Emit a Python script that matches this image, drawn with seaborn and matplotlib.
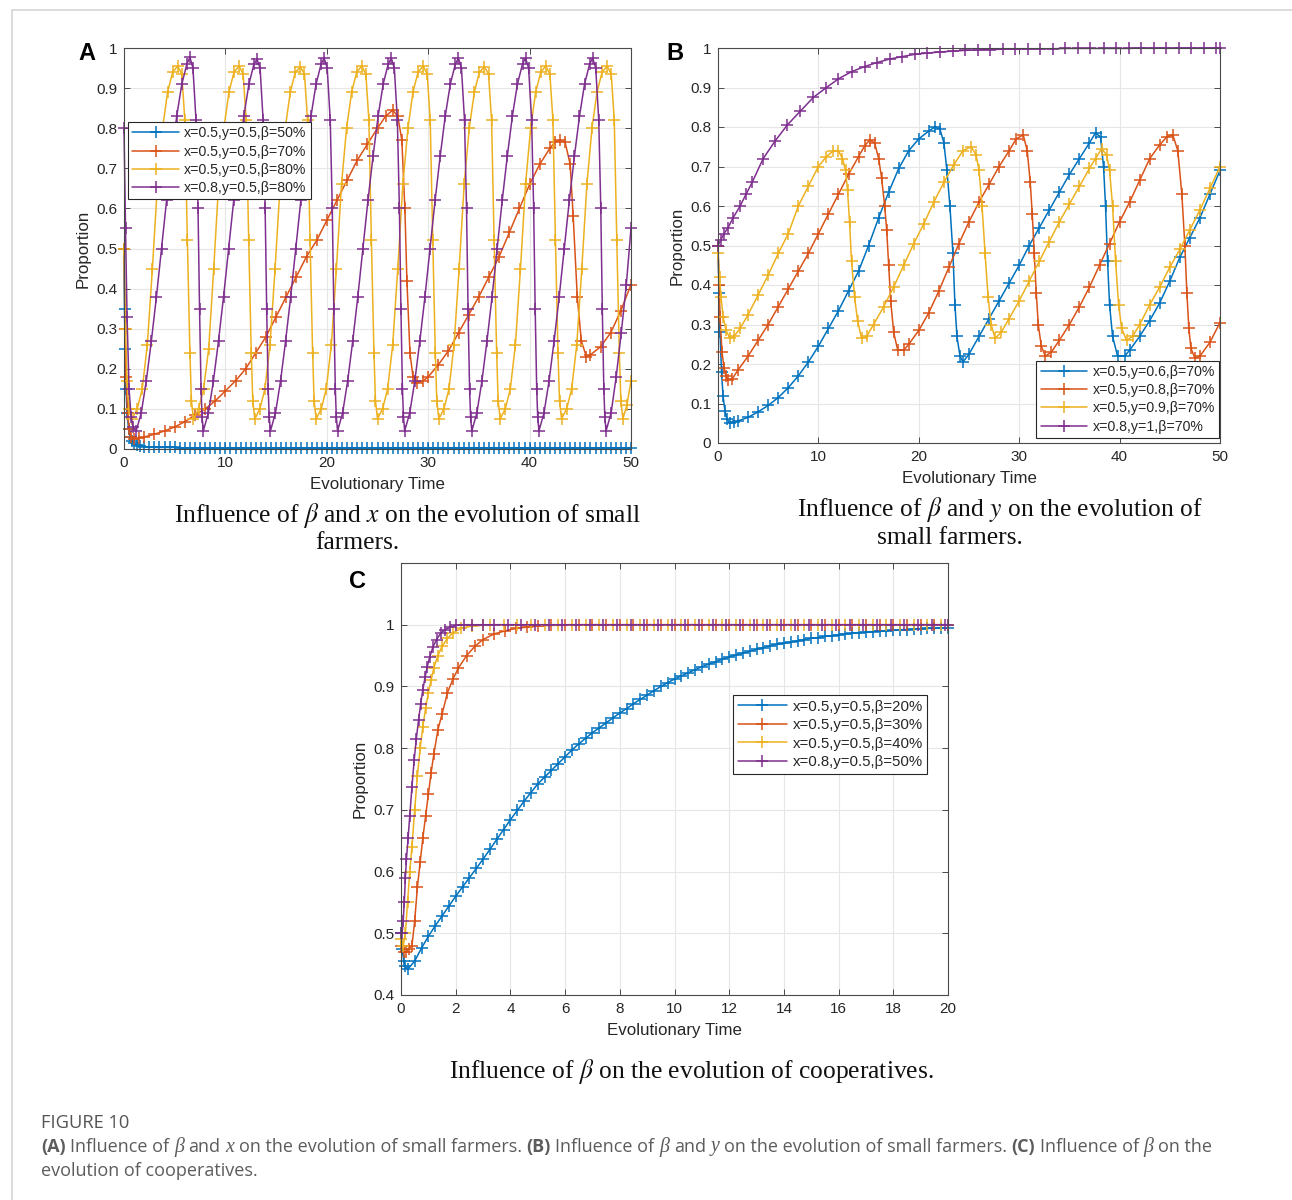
import numpy as np
import pandas as pd
import matplotlib
matplotlib.use("Agg")
import matplotlib.pyplot as plt
from matplotlib.lines import Line2D
import seaborn as sns

# ------------------------------------------------------------------
# Series colours (MATLAB default order)
COLORS = ["#0072BD", "#D95319", "#EDB120", "#7E2F8E"]

# ------------------------------------------------------------------
# Panel A : influence of beta and x on small farmers
A_LABELS = ["x=0.5,y=0.5,β=50%", "x=0.5,y=0.5,β=70%",
            "x=0.5,y=0.5,β=80%", "x=0.8,y=0.5,β=80%"]

a_t_blue = [0, 0.05, 0.1, 0.2, 0.3, 0.45, 0.6, 0.8, 1.0, 1.3, 1.6, 2.0, 2.5, 3.0,
            3.5, 4, 4.5, 5, 5.5, 6, 6.5, 7, 7.5, 8,
            8.5, 9, 9.5, 10, 10.5, 11, 11.5, 12, 12.5, 13,
            13.5, 14, 14.5, 15, 15.5, 16, 16.5, 17, 17.5, 18,
            18.5, 19, 19.5, 20, 20.5, 21, 21.5, 22, 22.5, 23,
            23.5, 24, 24.5, 25, 25.5, 26, 26.5, 27, 27.5, 28,
            28.5, 29, 29.5, 30, 30.5, 31, 31.5, 32, 32.5, 33,
            33.5, 34, 34.5, 35, 35.5, 36, 36.5, 37, 37.5, 38,
            38.5, 39, 39.5, 40, 40.5, 41, 41.5, 42, 42.5, 43,
            43.5, 44, 44.5, 45, 45.5, 46, 46.5, 47, 47.5, 48,
            48.5, 49, 49.5, 50]
a_y_blue = [0.5, 0.35, 0.25, 0.15, 0.09, 0.05, 0.03, 0.02, 0.014, 0.01, 0.008, 0.006, 0.005, 0.004,
            0.004, 0.004, 0.004, 0.004, 0.003, 0.003, 0.003, 0.003, 0.003, 0.003,
            0.003, 0.003, 0.003, 0.003, 0.003, 0.003, 0.003, 0.003, 0.003, 0.003,
            0.003, 0.003, 0.003, 0.003, 0.003, 0.003, 0.003, 0.003, 0.003, 0.003,
            0.003, 0.003, 0.003, 0.003, 0.003, 0.003, 0.003, 0.003, 0.003, 0.003,
            0.003, 0.003, 0.003, 0.003, 0.003, 0.003, 0.003, 0.003, 0.003, 0.003,
            0.003, 0.003, 0.003, 0.003, 0.003, 0.003, 0.003, 0.003, 0.003, 0.003,
            0.003, 0.003, 0.003, 0.003, 0.003, 0.003, 0.003, 0.003, 0.003, 0.003,
            0.003, 0.003, 0.003, 0.003, 0.003, 0.003, 0.003, 0.003, 0.003, 0.003,
            0.003, 0.003, 0.003, 0.003, 0.003, 0.003, 0.003, 0.003, 0.003, 0.003,
            0.003, 0.003, 0.003, 0.003]

a_t_red = [0, 0.1, 0.2, 0.35, 0.5, 0.7, 1.0, 1.5,
           2, 3, 4, 5, 6, 7, 8, 9, 10, 11, 12, 13, 14, 15, 16, 17, 18, 19, 20, 21,
           22, 23, 24, 25,
           25.8, 26.5, 27.0, 27.4, 27.7, 27.9, 28.2, 28.5, 28.9, 29.5,
           30, 31, 32, 33, 34, 35, 36, 37, 38, 39, 40, 41, 42,
           42.5, 43.0, 43.5, 44.0, 44.3, 44.7, 45.1, 45.6,
           46, 47, 48, 49, 50]
a_y_red = [0.5, 0.3, 0.18, 0.09, 0.05, 0.03, 0.025, 0.027,
           0.03, 0.037, 0.045, 0.055, 0.068, 0.085, 0.1, 0.12, 0.145, 0.17, 0.2, 0.24,
           0.28, 0.33, 0.38, 0.43, 0.48, 0.52, 0.57, 0.62, 0.67, 0.72, 0.76, 0.8,
           0.83, 0.845, 0.83, 0.77, 0.6, 0.42, 0.24, 0.18, 0.165, 0.17,
           0.18, 0.21, 0.245, 0.29, 0.335, 0.38, 0.43, 0.48, 0.54, 0.6, 0.66, 0.71, 0.75,
           0.765, 0.77, 0.765, 0.71, 0.58, 0.38, 0.27, 0.23,
           0.235, 0.255, 0.29, 0.345, 0.41]

a_t_yellow = [0, 0.15, 0.3, 0.5,
              0.8, 1.3, 1.8, 2.3, 2.8, 3.3, 3.8, 4.3, 4.8, 5.3, 5.7, 6.0, 6.25, 6.5, 6.65,
              6.85, 7.35, 7.85, 8.35, 8.85, 9.35, 9.85, 10.35, 10.85, 11.35, 11.75, 12.05, 12.3, 12.55, 12.7,
              12.9, 13.4, 13.9, 14.4, 14.9, 15.4, 15.9, 16.4, 16.9, 17.4, 17.8, 18.1, 18.35, 18.6, 18.75,
              18.95, 19.45, 19.95, 20.45, 20.95, 21.45, 21.95, 22.45, 22.95, 23.45, 23.85, 24.15, 24.4, 24.65, 24.8,
              25.0, 25.5, 26.0, 26.5, 27.0, 27.5, 28.0, 28.5, 29.0, 29.5, 29.9, 30.2, 30.45, 30.7, 30.85,
              31.05, 31.55, 32.05, 32.55, 33.05, 33.55, 34.05, 34.55, 35.05, 35.55, 35.95, 36.25, 36.5, 36.75, 36.9,
              37.1, 37.6, 38.1, 38.6, 39.1, 39.6, 40.1, 40.6, 41.1, 41.6, 42.0, 42.3, 42.55, 42.8, 42.95,
              43.15, 43.65, 44.15, 44.65, 45.15, 45.65, 46.15, 46.65, 47.15, 47.65, 48.05, 48.35, 48.6, 48.85, 49.0,
              49.2, 49.6, 50.0]
a_y_yellow = [0.5, 0.3, 0.17, 0.1,
              0.075, 0.1, 0.15, 0.26, 0.45, 0.66, 0.8, 0.89, 0.94, 0.955, 0.935, 0.82, 0.52, 0.24, 0.12,
              0.075, 0.1, 0.15, 0.25, 0.45, 0.67, 0.8, 0.89, 0.94, 0.955, 0.935, 0.82, 0.52, 0.24, 0.12,
              0.075, 0.1, 0.15, 0.26, 0.45, 0.66, 0.8, 0.89, 0.94, 0.952, 0.935, 0.82, 0.52, 0.24, 0.12,
              0.075, 0.1, 0.15, 0.26, 0.45, 0.66, 0.8, 0.89, 0.94, 0.955, 0.935, 0.82, 0.52, 0.24, 0.12,
              0.075, 0.1, 0.15, 0.26, 0.45, 0.66, 0.8, 0.89, 0.94, 0.955, 0.935, 0.82, 0.52, 0.24, 0.12,
              0.075, 0.1, 0.15, 0.26, 0.45, 0.66, 0.8, 0.89, 0.94, 0.953, 0.935, 0.82, 0.52, 0.24, 0.12,
              0.075, 0.1, 0.15, 0.26, 0.45, 0.66, 0.8, 0.89, 0.94, 0.955, 0.935, 0.82, 0.52, 0.24, 0.12,
              0.075, 0.1, 0.15, 0.26, 0.45, 0.66, 0.8, 0.89, 0.94, 0.955, 0.935, 0.82, 0.52, 0.24, 0.12,
              0.075, 0.11, 0.17]

a_t_purple = [0, 0.15, 0.3, 0.5, 0.7, 0.9,
              1.2, 1.7, 2.2, 2.7, 3.2, 3.7, 4.2, 4.7, 5.2, 5.7, 6.2, 6.5, 6.8, 7.1, 7.3, 7.45, 7.6, 7.7,
              7.82, 8.32, 8.82, 9.32, 9.82, 10.32, 10.82, 11.32, 11.82, 12.32, 12.82, 13.12, 13.42, 13.72, 13.92, 14.07, 14.22, 14.32,
              14.44, 14.94, 15.44, 15.94, 16.44, 16.94, 17.44, 17.94, 18.44, 18.94, 19.44, 19.74, 20.04, 20.34, 20.54, 20.69, 20.84, 20.94,
              21.06, 21.56, 22.06, 22.56, 23.06, 23.56, 24.06, 24.56, 25.06, 25.56, 26.06, 26.36, 26.66, 26.96, 27.16, 27.31, 27.46, 27.56,
              27.68, 28.18, 28.68, 29.18, 29.68, 30.18, 30.68, 31.18, 31.68, 32.18, 32.68, 32.98, 33.28, 33.58, 33.78, 33.93, 34.08, 34.18,
              34.3, 34.8, 35.3, 35.8, 36.3, 36.8, 37.3, 37.8, 38.3, 38.8, 39.3, 39.6, 39.9, 40.2, 40.4, 40.55, 40.7, 40.8,
              40.92, 41.42, 41.92, 42.42, 42.92, 43.42, 43.92, 44.42, 44.92, 45.42, 45.92, 46.22, 46.52, 46.82, 47.02, 47.17, 47.32, 47.42,
              47.54, 48.04, 48.54, 49.04, 49.54, 50.0]
a_y_purple = [0.8, 0.55, 0.33, 0.15, 0.08, 0.055,
              0.045, 0.09, 0.17, 0.27, 0.38, 0.5, 0.62, 0.73, 0.83, 0.91, 0.96, 0.977, 0.95, 0.82, 0.6, 0.35, 0.15, 0.08,
              0.045, 0.09, 0.17, 0.27, 0.38, 0.5, 0.62, 0.73, 0.83, 0.91, 0.96, 0.972, 0.95, 0.82, 0.6, 0.35, 0.15, 0.08,
              0.045, 0.09, 0.17, 0.27, 0.38, 0.5, 0.62, 0.73, 0.83, 0.91, 0.96, 0.975, 0.95, 0.82, 0.6, 0.35, 0.15, 0.08,
              0.045, 0.09, 0.17, 0.27, 0.38, 0.5, 0.62, 0.73, 0.83, 0.91, 0.96, 0.975, 0.95, 0.82, 0.6, 0.35, 0.15, 0.08,
              0.045, 0.09, 0.17, 0.27, 0.38, 0.5, 0.62, 0.73, 0.83, 0.91, 0.96, 0.975, 0.95, 0.82, 0.6, 0.35, 0.15, 0.08,
              0.045, 0.09, 0.17, 0.27, 0.38, 0.5, 0.62, 0.73, 0.83, 0.91, 0.96, 0.975, 0.95, 0.82, 0.6, 0.35, 0.15, 0.08,
              0.045, 0.09, 0.17, 0.27, 0.38, 0.5, 0.62, 0.73, 0.83, 0.91, 0.96, 0.975, 0.95, 0.82, 0.6, 0.35, 0.15, 0.08,
              0.045, 0.09, 0.18, 0.29, 0.41, 0.55]

# ------------------------------------------------------------------
# Panel B : influence of beta and y on small farmers
B_LABELS = ["x=0.5,y=0.6,β=70%", "x=0.5,y=0.8,β=70%",
            "x=0.5,y=0.9,β=70%", "x=0.8,y=1,β=70%"]

b_t_blue = [0, 0.1, 0.2, 0.35, 0.5, 0.7, 0.9, 1.2, 1.6, 2,
            3, 4, 5, 6, 7, 8, 9, 10, 11, 12, 13, 14, 15, 16, 17, 18, 19, 20, 21,
            21.6, 22.1, 22.5, 22.8, 23.1, 23.4, 23.6, 23.8, 24.1, 24.4,
            25, 26, 27, 28, 29, 30, 31, 32, 33, 34, 35, 36, 37,
            37.6, 38.1, 38.4, 38.6, 38.8, 39.0, 39.3, 39.8, 40.5,
            41, 42, 43, 44, 45, 46, 47, 48, 49, 50]
b_y_blue = [0.5, 0.38, 0.28, 0.18, 0.12, 0.08, 0.06, 0.05, 0.052, 0.056,
            0.065, 0.079, 0.095, 0.115, 0.14, 0.17, 0.205, 0.245, 0.29, 0.335, 0.385, 0.435,
            0.5, 0.57, 0.635, 0.695, 0.74, 0.77, 0.79,
            0.8, 0.795, 0.76, 0.69, 0.6, 0.48, 0.35, 0.27, 0.22, 0.205,
            0.225, 0.27, 0.315, 0.36, 0.405, 0.45, 0.5, 0.545, 0.59, 0.635, 0.68, 0.72, 0.76,
            0.785, 0.775, 0.7, 0.6, 0.46, 0.35, 0.27, 0.22, 0.22,
            0.235, 0.27, 0.31, 0.355, 0.41, 0.47, 0.52, 0.57, 0.63, 0.69]

b_t_red = [0, 0.1, 0.2, 0.4, 0.6, 0.8, 1.0, 1.4,
           2, 3, 4, 5, 6, 7, 8, 9, 10, 11, 12, 13, 14,
           14.6, 15.1, 15.6, 16.0, 16.3, 16.6, 16.8, 17.0, 17.2, 17.5, 17.9, 18.5,
           19, 20, 21, 22, 23, 24, 25, 26, 27, 28, 29,
           29.7, 30.4, 30.8, 31.1, 31.3, 31.5, 31.7, 31.9, 32.2, 32.6, 33.2,
           34, 35, 36, 37, 38, 39, 40, 41, 42, 43, 44,
           44.7, 45.3, 45.8, 46.2, 46.5, 46.7, 46.9, 47.1, 47.5,
           48, 49, 50]
b_y_red = [0.5, 0.4, 0.32, 0.23, 0.19, 0.17, 0.16, 0.162,
           0.185, 0.22, 0.26, 0.3, 0.345, 0.39, 0.435, 0.48, 0.53, 0.58, 0.63, 0.68, 0.725,
           0.752, 0.767, 0.76, 0.72, 0.67, 0.6, 0.54, 0.45, 0.36, 0.28, 0.235, 0.235,
           0.25, 0.285, 0.33, 0.385, 0.445, 0.505, 0.56, 0.61, 0.655, 0.7, 0.74,
           0.77, 0.78, 0.74, 0.66, 0.58, 0.48, 0.38, 0.30, 0.245, 0.22, 0.23,
           0.26, 0.3, 0.345, 0.395, 0.45, 0.505, 0.56, 0.61, 0.665, 0.72, 0.755,
           0.775, 0.78, 0.74, 0.63, 0.5, 0.38, 0.29, 0.24, 0.215,
           0.22, 0.255, 0.305]

b_t_yellow = [0, 0.15, 0.3, 0.5, 0.8, 1.2, 1.6, 2.2,
              3, 4, 5, 6, 7, 8, 9, 10,
              10.8, 11.5, 12.0, 12.4, 12.7, 12.9, 13.1, 13.3, 13.6, 13.9, 14.3, 14.8,
              15.5, 16.5, 17.5, 18.5, 19.5, 20.5, 21.5, 22.5, 23.5,
              24.4, 25.2, 25.7, 26.0, 26.3, 26.6, 26.9, 27.2, 27.6, 28.2,
              29, 30, 31, 32, 33, 34, 35, 36, 37,
              37.6, 38.2, 38.7, 39.0, 39.3, 39.6, 39.9, 40.2, 40.7, 41.3,
              42, 43, 44, 45, 46, 47, 48, 49, 50]
b_y_yellow = [0.48, 0.42, 0.37, 0.32, 0.285, 0.265, 0.27, 0.29,
              0.325, 0.375, 0.425, 0.48, 0.53, 0.6, 0.65, 0.7,
              0.725, 0.74, 0.74, 0.72, 0.69, 0.64, 0.56, 0.46, 0.37, 0.31, 0.265, 0.27,
              0.3, 0.345, 0.395, 0.45, 0.505, 0.555, 0.61, 0.66, 0.705,
              0.74, 0.75, 0.73, 0.69, 0.6, 0.48, 0.37, 0.3, 0.265, 0.28,
              0.315, 0.36, 0.41, 0.46, 0.51, 0.56, 0.605, 0.65, 0.695,
              0.72, 0.745, 0.73, 0.69, 0.6, 0.46, 0.35, 0.29, 0.26, 0.27,
              0.3, 0.35, 0.395, 0.445, 0.49, 0.54, 0.59, 0.645, 0.70]

b_t_purple = [0, 0.3, 0.6, 1.0, 1.5, 2.2, 2.8, 3.4, 4.5, 5.7,
              6.9, 8.2, 9.5, 10.8, 12.0, 13.3, 14.6, 15.8, 17.1, 18.3,
              19.6, 20.8, 22.1, 23.4, 24.6, 25.9, 27.1, 28.4, 29.6, 30.9,
              32.1, 33.4, 34.6, 35.9, 37.1, 38.4, 39.6, 40.9,
              42.1, 43.4, 44.6, 45.9, 47.1, 48.4, 49.6, 50.0]
b_y_purple = [0.5, 0.515, 0.53, 0.545, 0.57, 0.6, 0.63, 0.66, 0.72, 0.765,
              0.805, 0.84, 0.875, 0.9, 0.922, 0.94, 0.953, 0.963, 0.972, 0.978,
              0.984, 0.987, 0.99, 0.992, 0.994, 0.995, 0.996, 0.997, 0.997, 0.998,
              0.998, 0.998, 0.999, 0.999, 0.999, 0.999, 0.999, 0.999,
              1.0, 1.0, 1.0, 1.0, 1.0, 1.0, 1.0, 1.0]

# ------------------------------------------------------------------
# Panel C : influence of beta on cooperatives
C_LABELS = ["x=0.5,y=0.5,β=20%", "x=0.5,y=0.5,β=30%",
            "x=0.5,y=0.5,β=40%", "x=0.8,y=0.5,β=50%"]

c_t_blue = [0, 0.05, 0.1, 0.15,
            0.25, 0.5, 0.75, 1.0, 1.25, 1.5, 1.75, 2.0, 2.25, 2.5, 2.75, 3.0, 3.25, 3.5, 3.75, 4.0,
            4.25, 4.5, 4.75, 5.0, 5.25, 5.5, 5.75, 6.0, 6.25, 6.5, 6.75, 7.0, 7.25, 7.5, 7.75, 8.0,
            8.25, 8.5, 8.75, 9.0, 9.25, 9.5, 9.75, 10.0, 10.25, 10.5, 10.75, 11.0, 11.25, 11.5, 11.75, 12.0,
            12.25, 12.5, 12.75, 13.0, 13.25, 13.5, 13.75, 14.0, 14.25, 14.5, 14.75, 15.0, 15.25, 15.5, 15.75, 16.0,
            16.25, 16.5, 16.75, 17.0, 17.25, 17.5, 17.75, 18.0, 18.25, 18.5, 18.75, 19.0, 19.25, 19.5, 19.75, 20.0]
c_y_blue = [0.5, 0.475, 0.455, 0.447,
            0.442, 0.455, 0.476, 0.495, 0.512, 0.528, 0.544, 0.56, 0.575, 0.59, 0.605, 0.62, 0.636, 0.652, 0.668, 0.684,
            0.699, 0.714, 0.728, 0.742, 0.753, 0.764, 0.775, 0.786, 0.797, 0.807, 0.816, 0.825, 0.833, 0.841, 0.849, 0.857,
            0.864, 0.872, 0.879, 0.886, 0.893, 0.9, 0.906, 0.912, 0.917, 0.922, 0.927, 0.932, 0.936, 0.94, 0.944, 0.948,
            0.951, 0.954, 0.957, 0.96, 0.963, 0.966, 0.968, 0.97, 0.972, 0.974, 0.976, 0.978, 0.979, 0.981, 0.982, 0.984,
            0.985, 0.986, 0.987, 0.988, 0.989, 0.99, 0.99, 0.991, 0.992, 0.992, 0.993, 0.993, 0.994, 0.994, 0.995, 0.995]

c_t_red = [0, 0.1, 0.2, 0.3, 0.4, 0.5, 0.6, 0.7, 0.8, 0.9, 1.0, 1.1, 1.2, 1.35, 1.5, 1.7, 1.9,
           2.1, 2.4, 2.7, 3.0, 3.4, 3.8, 4.2, 4.6, 5.0,
           5.5, 6.0, 6.5, 7.0, 7.5, 8.0, 8.5, 9.0, 9.5, 10.0, 10.5, 11.0, 11.5, 12.0, 12.5,
           13.0, 13.5, 14.0, 14.5, 15.0, 15.5, 16.0, 16.5, 17.0, 17.5, 18.0, 18.5, 19.0, 19.5, 20.0]
c_y_red = [0.48, 0.47, 0.47, 0.475, 0.48, 0.52, 0.575, 0.615, 0.655, 0.69, 0.725, 0.76, 0.79, 0.83, 0.855, 0.89, 0.912,
           0.93, 0.95, 0.965, 0.976, 0.985, 0.99, 0.994, 0.996, 0.998,
           0.999, 0.999, 1.0, 1.0, 1.0, 1.0, 1.0, 1.0, 1.0, 1.0, 1.0, 1.0, 1.0, 1.0, 1.0,
           1.0, 1.0, 1.0, 1.0, 1.0, 1.0, 1.0, 1.0, 1.0, 1.0, 1.0, 1.0, 1.0, 1.0, 1.0]

c_t_yellow = [0, 0.08, 0.16, 0.24, 0.32, 0.4, 0.5, 0.6, 0.7, 0.8, 0.9, 1.0, 1.1, 1.2, 1.35, 1.5, 1.7,
              1.9, 2.2, 2.6, 3.0,
              3.25, 3.75, 4.25, 4.75, 5.25, 5.75, 6.25, 6.75, 7.25, 7.75, 8.25, 8.75, 9.25, 9.75,
              10.25, 10.75, 11.25, 11.75, 12.25, 12.75, 13.25, 13.75, 14.25, 14.75, 15.25, 15.75,
              16.25, 16.75, 17.25, 17.75, 18.25, 18.75, 19.25, 19.75, 20.0]
c_y_yellow = [0.49, 0.48, 0.5, 0.55, 0.6, 0.64, 0.70, 0.755, 0.8, 0.835, 0.865, 0.89, 0.91, 0.93, 0.95, 0.965, 0.978,
              0.987, 0.994, 0.998, 0.999,
              1.0, 1.0, 1.0, 1.0, 1.0, 1.0, 1.0, 1.0, 1.0, 1.0, 1.0, 1.0, 1.0, 1.0,
              1.0, 1.0, 1.0, 1.0, 1.0, 1.0, 1.0, 1.0, 1.0, 1.0, 1.0, 1.0,
              1.0, 1.0, 1.0, 1.0, 1.0, 1.0, 1.0, 1.0, 1.0]

c_t_purple = [0, 0.04, 0.08, 0.12, 0.16, 0.2, 0.26, 0.32, 0.4, 0.48, 0.56, 0.64, 0.72, 0.8, 0.88, 0.96,
              1.05, 1.17, 1.3, 1.45, 1.6, 1.8, 2.0, 2.3, 2.6, 3.0,
              3.4, 3.9, 4.4, 4.9, 5.4, 5.9, 6.4, 6.9, 7.4, 7.9, 8.4, 8.9, 9.4, 9.9,
              10.4, 10.9, 11.4, 11.9, 12.4, 12.9, 13.4, 13.9, 14.4, 14.9, 15.4, 15.9,
              16.4, 16.9, 17.4, 17.9, 18.4, 18.9, 19.4, 19.9, 20.0]
c_y_purple = [0.5, 0.5, 0.52, 0.55, 0.59, 0.62, 0.655, 0.69, 0.737, 0.78, 0.815, 0.845, 0.872, 0.895, 0.915, 0.932,
              0.948, 0.964, 0.976, 0.986, 0.992, 0.996, 0.999, 1.0, 1.0, 1.0,
              1.0, 1.0, 1.0, 1.0, 1.0, 1.0, 1.0, 1.0, 1.0, 1.0, 1.0, 1.0, 1.0, 1.0,
              1.0, 1.0, 1.0, 1.0, 1.0, 1.0, 1.0, 1.0, 1.0, 1.0, 1.0, 1.0,
              1.0, 1.0, 1.0, 1.0, 1.0, 1.0, 1.0, 1.0, 1.0]

# Tick positions / labels
AB_XTICKS = [0, 10, 20, 30, 40, 50]
AB_YTICKS = [0, 0.1, 0.2, 0.3, 0.4, 0.5, 0.6, 0.7, 0.8, 0.9, 1.0]
AB_YTICKLABELS = ["0", "0.1", "0.2", "0.3", "0.4", "0.5", "0.6", "0.7", "0.8", "0.9", "1"]
C_XTICKS = [0, 2, 4, 6, 8, 10, 12, 14, 16, 18, 20]
C_YTICKS = [0.4, 0.5, 0.6, 0.7, 0.8, 0.9, 1.0]
C_YTICKLABELS = ["0.4", "0.5", "0.6", "0.7", "0.8", "0.9", "1"]

# ------------------------------------------------------------------
W, H = 1292, 1200
sns.set_theme(style="whitegrid")
plt.rcParams["font.family"] = ["Liberation Sans", "DejaVu Sans"]
plt.rcParams["mathtext.fontset"] = "stix"

fig = plt.figure(figsize=(W / 100, H / 100), dpi=100)
fig.patch.set_facecolor("white")

INK = "#262626"


def add_axes_px(left, top, right, bottom):
    return fig.add_axes([left / W, 1 - bottom / H, (right - left) / W, (bottom - top) / H])


def draw_panel(ax, series, labels, xlim, ylim, xticks, yticks, yticklabels, legend_kw, legend_size):
    frames = [pd.DataFrame({"t": t, "y": y, "series": lab}) for lab, (t, y) in zip(labels, series)]
    df = pd.concat(frames, ignore_index=True)
    sns.lineplot(data=df, x="t", y="y", hue="series", hue_order=labels,
                 palette=dict(zip(labels, COLORS)), marker="+", markersize=8,
                 linewidth=1.1, estimator=None, sort=False, legend=False, ax=ax)
    for line in ax.lines:
        line.set_markeredgecolor(line.get_color())
        line.set_markeredgewidth(1.1)
        line.set_clip_on(False)
    ax.set_xlim(*xlim)
    ax.set_ylim(*ylim)
    ax.set_xticks(xticks)
    ax.set_xticklabels([str(v) for v in xticks])
    ax.set_yticks(yticks)
    ax.set_yticklabels(yticklabels)
    ax.set_facecolor("white")
    ax.grid(True, color="#e6e6e6", linewidth=0.8)
    ax.set_axisbelow(True)
    for sp in ax.spines.values():
        sp.set_visible(True)
        sp.set_color("#4a4a4a")
        sp.set_linewidth(0.8)
    ax.tick_params(direction="in", length=4, width=0.7, color="#4a4a4a",
                   top=True, right=True, bottom=True, left=True,
                   labelsize=11, labelcolor=INK, pad=5)
    ax.set_xlabel("Evolutionary Time", fontsize=12.2, color=INK, labelpad=5)
    ax.set_ylabel("Proportion", fontsize=12.2, color=INK, labelpad=4)
    leg = ax.legend(handles=ax.lines[:4], labels=labels, fontsize=legend_size, frameon=True,
                    fancybox=False, framealpha=1, edgecolor="#262626",
                    handlelength=3.3, handletextpad=0.35, labelspacing=0.3,
                    borderpad=0.3, borderaxespad=0, numpoints=1, **legend_kw)
    leg.get_frame().set_linewidth(0.8)
    for txt in leg.get_texts():
        txt.set_color(INK)


axA = add_axes_px(124, 48, 631, 449)
draw_panel(axA, [(a_t_blue, a_y_blue), (a_t_red, a_y_red), (a_t_yellow, a_y_yellow), (a_t_purple, a_y_purple)],
           A_LABELS, (0, 50), (0, 1), AB_XTICKS, AB_YTICKS, AB_YTICKLABELS,
           dict(loc="upper left", bbox_to_anchor=(0.008, 0.815)), 10.2)

axB = add_axes_px(718, 48, 1220, 443)
draw_panel(axB, [(b_t_blue, b_y_blue), (b_t_red, b_y_red), (b_t_yellow, b_y_yellow), (b_t_purple, b_y_purple)],
           B_LABELS, (0, 50), (0, 1), AB_XTICKS, AB_YTICKS, AB_YTICKLABELS,
           dict(loc="lower right", bbox_to_anchor=(0.998, 0.013)), 10.2)

axC = add_axes_px(401, 563, 948, 995)
draw_panel(axC, [(c_t_blue, c_y_blue), (c_t_red, c_y_red), (c_t_yellow, c_y_yellow), (c_t_purple, c_y_purple)],
           C_LABELS, (0, 20), (0.4, 1.1), C_XTICKS, C_YTICKS, C_YTICKLABELS,
           dict(loc="upper right", bbox_to_anchor=(0.962, 0.694)), 10.8)


def ftext(x, y, s, **kw):
    return fig.text(x / W, 1 - y / H, s, **kw)


# panel letters
for letter, (x, y) in {"A": (87, 53), "B": (675, 53), "C": (358, 581)}.items():
    ftext(x, y, letter, fontsize=17, fontweight="bold", color="black", ha="center", va="center")

# panel captions
serif = dict(family="Liberation Serif", fontsize=18.4, color="#111111", ha="center", va="center")
ftext(407, 515, r"Influence of $\beta$ and $x$ on the evolution of small", **serif)
ftext(357, 543, "farmers.", **serif)
ftext(1000, 509, r"Influence of $\beta$ and $y$ on the evolution of", **serif)
ftext(950, 538, "small farmers.", **serif)
ftext(691, 1072, r"Influence of $\beta$ on the evolution of cooperatives.", **serif)

# outer frame
fig.add_artist(Line2D([12 / W, 1.0], [1 - 10 / H, 1 - 10 / H], transform=fig.transFigure,
                      color="#d6d6d6", linewidth=1.2))
fig.add_artist(Line2D([12 / W, 12 / W], [0.0, 1 - 10 / H], transform=fig.transFigure,
                      color="#d6d6d6", linewidth=1.2))

# figure caption
CAP = "#5c5c5c"
ftext(41, 1123, "FIGURE 10", family="Open Sans", fontsize=13.2, color="#555555",
      ha="left", va="center")

renderer = fig.canvas.get_renderer()


def rich_line(x0, y0, parts, size, measure_only=False):
    x = x0
    made = []
    probe = ftext(0, 0, "a a", family="Open Sans", fontsize=size)
    w2 = probe.get_window_extent(renderer).width
    probe.remove()
    probe = ftext(0, 0, "aa", family="Open Sans", fontsize=size)
    space = w2 - probe.get_window_extent(renderer).width
    probe.remove()
    for s, style in parts:
        kw = dict(fontsize=size, color=CAP, ha="left", va="center", family="Open Sans")
        if style == "b":
            kw["fontweight"] = "bold"
        elif style == "i":
            kw["family"] = "Liberation Serif"
            kw["fontstyle"] = "italic"
            kw["fontsize"] = size * 1.1
        t = ftext(x, y0, s, **kw)
        x += t.get_window_extent(renderer).width + space
        made.append(t)
    if measure_only:
        for t in made:
            t.remove()
    return x - space - x0


line2 = [("(A)", "b"), ("Influence of", "r"), ("β", "i"), ("and", "r"), ("x", "i"),
         ("on the evolution of small farmers.", "r"), ("(B)", "b"), ("Influence of", "r"),
         ("β", "i"), ("and", "r"), ("y", "i"), ("on the evolution of small farmers.", "r"),
         ("(C)", "b"), ("Influence of", "r"), ("β", "i"), ("on the", "r")]
base = 12.5
wtest = rich_line(41, 1147, line2, base, measure_only=True)
size = base * (1179 / wtest)
rich_line(41, 1147, line2, size)
rich_line(41, 1171, [("evolution of cooperatives.", "r")], size)

fig.savefig("out.png", dpi=100, facecolor="white")
